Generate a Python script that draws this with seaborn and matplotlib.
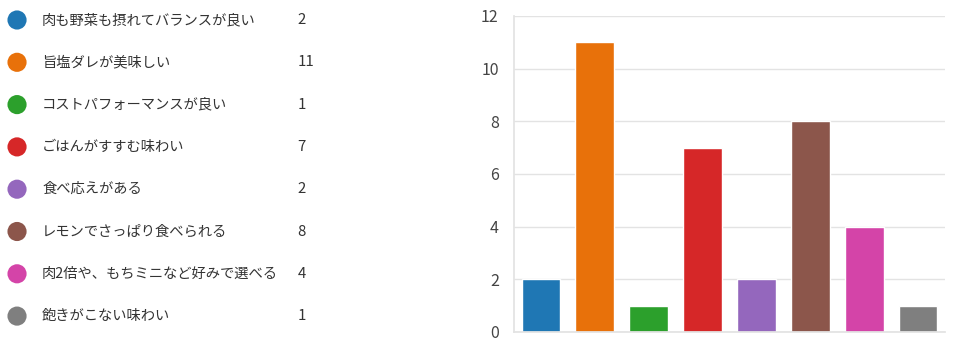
import matplotlib
matplotlib.use("Agg")
import matplotlib.pyplot as plt
import seaborn as sns
import pandas as pd

categories = [
    "肉も野菜も摂れてバランスが良い",
    "旨塩ダレが美味しい",
    "コストパフォーマンスが良い",
    "ごはんがすすむ味わい",
    "食べ応えがある",
    "レモンでさっぱり食べられる",
    "肉2倍や、もちミニなど好みで選べる",
    "飽きがこない味わい",
]
counts = [2, 11, 1, 7, 2, 8, 4, 1]
colors = ["#1f77b4", "#e8710a", "#2ca02c", "#d62728", "#9467bd", "#8c564b", "#d444a8", "#7f7f7f"]
y_ticks = [0, 2, 4, 6, 8, 10, 12]

sns.set_theme(style="white")
plt.rcParams['font.family'] = ['Noto Sans CJK JP', 'DejaVu Sans']

df = pd.DataFrame({"cat": categories, "n": counts})

fig = plt.figure(figsize=(9.57, 3.42), dpi=100)

# Legend panel
lax = fig.add_axes([0, 0, 0.36, 1])
lax.set_xlim(0, 344)
lax.set_ylim(342, 0)
lax.axis("off")
ys = [20 + i * 42.3 for i in range(len(categories))]
lax.scatter([17] * len(categories), ys, s=190, c=colors, edgecolors="none")
for y, cat, n in zip(ys, categories, counts):
    lax.text(42, y, cat, va="center", ha="left", fontsize=10.3, color="#333333")
    lax.text(297, y, str(n), va="center", ha="left", fontsize=10.8, color="#333333")

# Bar chart
ax = fig.add_axes([514 / 957, 1 - 332 / 342, (945 - 514) / 957, (332 - 16) / 342])
sns.barplot(data=df, x="cat", y="n", hue="cat", palette=colors, legend=False,
            width=0.72, ax=ax, saturation=1)
ax.set_ylim(0, 12)
ax.set_xlim(-0.5, len(categories) - 0.5)
ax.set_yticks(y_ticks)
ax.set_xticks([])
ax.set_xlabel("")
ax.set_ylabel("")
ax.yaxis.grid(True, color="#e3e3e3", linewidth=1)
ax.set_axisbelow(True)
for s in ["top", "right"]:
    ax.spines[s].set_visible(False)
ax.spines["left"].set_color("#e3e3e3")
ax.spines["bottom"].set_color("#e3e3e3")
ax.tick_params(axis="y", length=0, pad=11, labelsize=11.5, labelcolor="#444444")

fig.savefig("out.png", dpi=100)
